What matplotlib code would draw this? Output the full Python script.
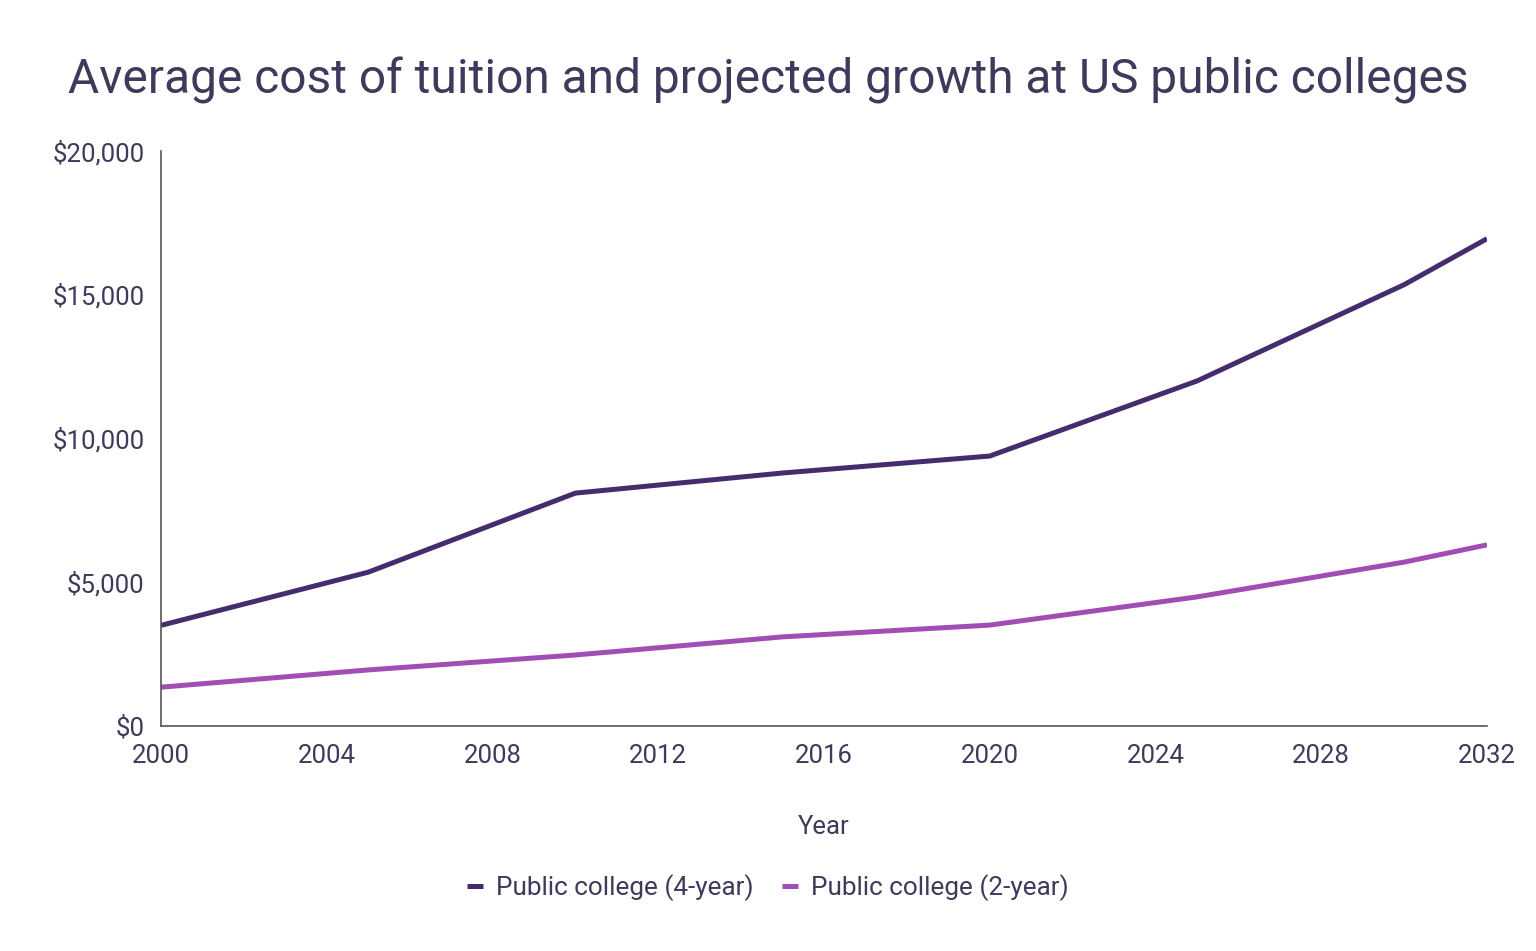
import matplotlib.pyplot as plt
from matplotlib.ticker import FuncFormatter

# Data
years = [2000, 2005, 2010, 2015, 2020, 2025, 2030, 2032]
four_year = [3500, 5350, 8100, 8800, 9390, 12000, 15350, 16950]
two_year = [1350, 1950, 2470, 3100, 3510, 4490, 5700, 6300]
labels = ['Public college (4-year)', 'Public college (2-year)']
title = 'Average cost of tuition and projected growth at US public colleges'

plt.rcParams['font.family'] = ['Roboto', 'DejaVu Sans']
txt = '#3d3a5c'

fig = plt.figure(figsize=(15.36, 9.51), dpi=100)
ax = fig.add_axes([161/1536, 1-726/951, (1487-161)/1536, (726-151)/951])

ax.plot(years, four_year, color='#452c6e', lw=3.6, label=labels[0], solid_capstyle='butt')
ax.plot(years, two_year, color='#a24db4', lw=3.6, label=labels[1], solid_capstyle='butt')

ax.set_xlim(2000, 2032)
ax.set_ylim(0, 20000)
ax.set_xticks(range(2000, 2033, 4))
ax.set_yticks(range(0, 20001, 5000))
ax.yaxis.set_major_formatter(FuncFormatter(lambda v, p: '${:,.0f}'.format(v)))
ax.tick_params(length=0, labelsize=18.5, labelcolor=txt)
ax.tick_params(axis='x', pad=13)
ax.tick_params(axis='y', pad=12)
for s in ['top', 'right']:
    ax.spines[s].set_visible(False)
for s in ['left', 'bottom']:
    ax.spines[s].set_color('#555555')
    ax.spines[s].set_linewidth(1.2)

ax.set_xlabel('Year', fontsize=18.5, color=txt, labelpad=34)
fig.suptitle(title, fontsize=34.5, color=txt, y=0.94)

fig.legend(loc='center', bbox_to_anchor=(0.5, 1-888/951), ncol=2, frameon=False,
           fontsize=18.8, labelcolor=txt, handlelength=0.6, handletextpad=0.5,
           columnspacing=1.1)

fig.savefig('out.png', dpi=100, facecolor='white')
